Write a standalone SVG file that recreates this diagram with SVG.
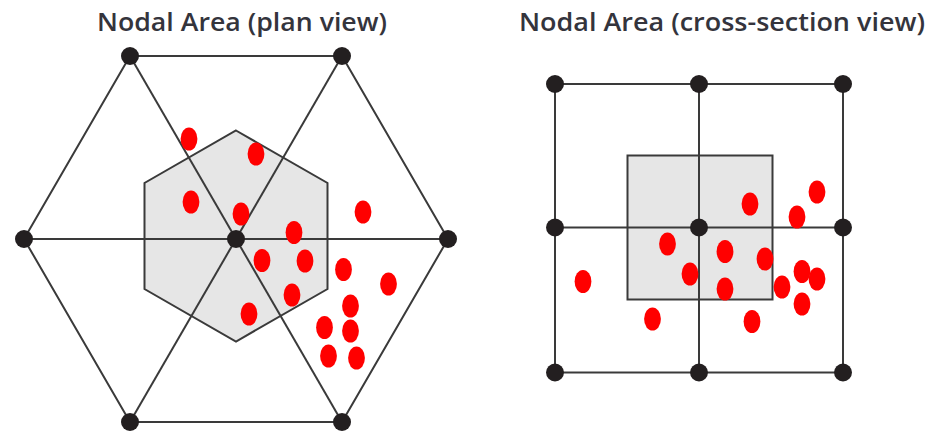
<svg xmlns="http://www.w3.org/2000/svg" width="936" height="432" viewBox="0 0 936 432">
  <style>
    .title { font-family: "Open Sans", "Liberation Sans", sans-serif; font-size: 25.5px; font-weight: 600; fill: #34343c; text-anchor: middle; }
    .edge { stroke: #3a3a3a; stroke-width: 2; fill: none; }
    .area { fill: #e6e6e6; stroke: #3a3a3a; stroke-width: 2; }
    .node { fill: #231f20; }
    .pt { fill: #ff0000; }
  </style>
  <defs>
    <ellipse id="p" rx="8.4" ry="11.6" class="pt"/>
  </defs>
  <rect width="936" height="432" fill="#fff"/>

  <!-- Titles -->
  <text class="title" x="242" y="31" textLength="290" lengthAdjust="spacingAndGlyphs">Nodal Area (plan view)</text>
  <text class="title" x="722" y="31" textLength="406" lengthAdjust="spacingAndGlyphs">Nodal Area (cross-section view)</text>

  <!-- Plan view: nodal area (grey hexagon) -->
  <polygon id="plan-area" class="area" points="236,130.5 327.5,183 327.5,289 236,341.5 144.5,289 144.5,183"/>

  <!-- Plan view connectors -->
  <g id="plan-edges" class="edge">
    <polygon points="130,56 342,56 448,239 342,422 130,422 24,239"/>
    <line x1="24" y1="239" x2="448" y2="239"/>
    <line x1="130" y1="56" x2="342" y2="422"/>
    <line x1="342" y1="56" x2="130" y2="422"/>
  </g>

  <!-- Plan view points -->
  <g id="plan-points">
    <use href="#p" x="189" y="139"/>
    <use href="#p" x="256" y="154"/>
    <use href="#p" x="191" y="202"/>
    <use href="#p" x="241" y="214"/>
    <use href="#p" x="363" y="212"/>
    <use href="#p" x="294" y="232.5"/>
    <use href="#p" x="262" y="260.5"/>
    <use href="#p" x="305" y="261"/>
    <use href="#p" x="343.5" y="269.5"/>
    <use href="#p" x="388.5" y="284"/>
    <use href="#p" x="292" y="295"/>
    <use href="#p" x="249" y="314"/>
    <use href="#p" x="350.5" y="306"/>
    <use href="#p" x="324.5" y="327.5"/>
    <use href="#p" x="350.5" y="331"/>
    <use href="#p" x="328.5" y="356"/>
    <use href="#p" x="356.5" y="358"/>
  </g>

  <!-- Plan view nodes -->
  <g id="plan-nodes">
    <circle id="pn-c" class="node" cx="236" cy="239" r="9"/>
    <circle id="pn-tl" class="node" cx="130" cy="56" r="9"/>
    <circle id="pn-tr" class="node" cx="342" cy="56" r="9"/>
    <circle id="pn-r" class="node" cx="448" cy="239" r="9"/>
    <circle id="pn-br" class="node" cx="342" cy="422" r="9"/>
    <circle id="pn-bl" class="node" cx="130" cy="422" r="9"/>
    <circle id="pn-l" class="node" cx="24" cy="239" r="9"/>
  </g>

  <!-- Cross-section view: nodal area (grey square) -->
  <rect id="section-area" class="area" x="627.5" y="155.5" width="145" height="144"/>

  <!-- Cross-section connectors -->
  <g id="section-edges" class="edge">
    <rect x="555" y="84" width="288" height="288.5"/>
    <line x1="699" y1="84" x2="699" y2="372.5"/>
    <line x1="555" y1="227.5" x2="843" y2="227.5"/>
  </g>

  <!-- Cross-section points -->
  <g id="section-points">
    <use href="#p" x="817" y="192"/>
    <use href="#p" x="750" y="204"/>
    <use href="#p" x="797" y="217"/>
    <use href="#p" x="667.5" y="244"/>
    <use href="#p" x="725" y="251.5"/>
    <use href="#p" x="765" y="259"/>
    <use href="#p" x="690" y="274"/>
    <use href="#p" x="802" y="271.5"/>
    <use href="#p" x="817" y="279"/>
    <use href="#p" x="583" y="281.5"/>
    <use href="#p" x="725" y="289"/>
    <use href="#p" x="782" y="287"/>
    <use href="#p" x="802" y="304"/>
    <use href="#p" x="652.5" y="319"/>
    <use href="#p" x="752" y="321.5"/>
  </g>

  <!-- Cross-section nodes -->
  <g id="section-nodes">
    <circle id="sn-11" class="node" cx="555" cy="84" r="9"/>
    <circle id="sn-12" class="node" cx="699" cy="84" r="9"/>
    <circle id="sn-13" class="node" cx="843" cy="84" r="9"/>
    <circle id="sn-21" class="node" cx="555" cy="227.5" r="9"/>
    <circle id="sn-22" class="node" cx="699" cy="227.5" r="9"/>
    <circle id="sn-23" class="node" cx="843" cy="227.5" r="9"/>
    <circle id="sn-31" class="node" cx="555" cy="372.5" r="9"/>
    <circle id="sn-32" class="node" cx="699" cy="372.5" r="9"/>
    <circle id="sn-33" class="node" cx="843" cy="372.5" r="9"/>
  </g>
</svg>
